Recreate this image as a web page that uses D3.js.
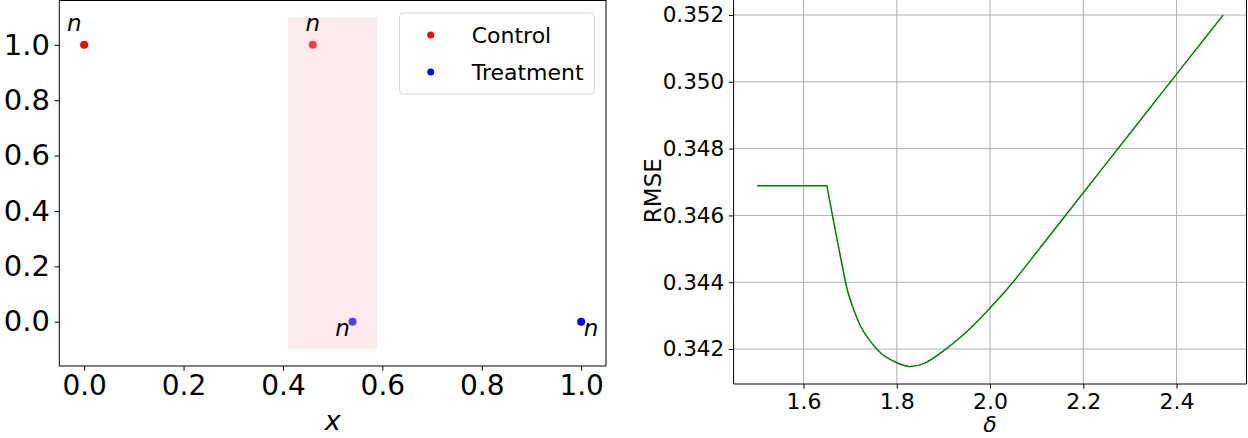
<!DOCTYPE html>
<html>
<head>
<meta charset="utf-8">
<script src="https://cdn.jsdelivr.net/npm/d3@7"></script>
<style>
  body { margin: 0; background: #fff; }
  svg { display: block; font-family: "DejaVu Sans", sans-serif; }
</style>
</head>
<body>
<div id="chart"></div>
<script>
// left panel: two groups of points with a shaded band
const seriesNames = ["Control", "Treatment"];
const seriesColors = ["#ff0000", "#0000ff"];
const controlX = [0, 0.46];
const controlY = [1, 1];
const treatmentX = [0.54, 1];
const treatmentY = [0, 0];
const bandX = [0.41, 0.59];
const bandY = [-0.1, 1.1];
const noteX = [-0.02, 0.46, 0.52, 1.02];
const noteY = [1.05, 1.05, -0.05, -0.05];
const noteText = ["n", "n", "n", "n"];
const leftTicks = [0, 0.2, 0.4, 0.6, 0.8, 1.0];

// right panel: RMSE against delta
const deltaValues = [1.50, 1.65, 1.662, 1.676, 1.69, 1.70, 1.72, 1.74, 1.757, 1.775, 1.80, 1.825,
  1.86, 1.905, 1.95, 2.00, 2.049, 2.10, 2.16, 2.28, 2.40, 2.50];
const rmseValues = [0.34689, 0.34689, 0.34600, 0.34499, 0.34400, 0.34348, 0.34275, 0.34229, 0.34200, 0.34178,
  0.34159, 0.34148, 0.34158, 0.34200, 0.34252, 0.34323, 0.34400, 0.34490, 0.34597, 0.34810, 0.35023, 0.35200];
const deltaTicks = [1.6, 1.8, 2.0, 2.2, 2.4];
const rmseTicks = [0.342, 0.344, 0.346, 0.348, 0.350, 0.352];

const width = 1248;
const height = 438;

const svg = d3.select("#chart")
    .append("svg")
    .attr("width", width)
    .attr("height", height);

const styleAxis = (g, size) => {
    g.select(".domain").remove();
    g.selectAll(".tick line").attr("stroke", "#000").attr("stroke-width", 1);
    g.selectAll(".tick text")
        .attr("fill", "#000")
        .style("font-size", size + "px")
        .style("font-family", "DejaVu Sans");
};

// ---------- left panel ----------
const lx = d3.scaleLinear().domain([-0.05, 1.05]).range([59.3, 606]);
const ly = d3.scaleLinear().domain([-0.16, 1.16]).range([366, 0.5]);

const left = svg.append("g");

const groups = [
    { x: controlX, y: controlY },
    { x: treatmentX, y: treatmentY }
];

groups.forEach((s, k) => {
    left.selectAll(null)
        .data(s.x.map((v, i) => [v, s.y[i]]))
        .enter().append("circle")
        .attr("cx", d => lx(d[0]))
        .attr("cy", d => ly(d[1]))
        .attr("r", 4)
        .attr("fill", seriesColors[k]);
});

left.append("rect")
    .attr("x", lx(bandX[0]))
    .attr("y", ly(bandY[1]))
    .attr("width", lx(bandX[1]) - lx(bandX[0]))
    .attr("height", ly(bandY[0]) - ly(bandY[1]))
    .attr("fill", "pink")
    .attr("fill-opacity", 0.32);

left.selectAll(".note")
    .data(noteText)
    .enter().append("text")
    .attr("class", "note")
    .attr("x", (d, i) => lx(noteX[i]))
    .attr("y", (d, i) => ly(noteY[i]))
    .attr("text-anchor", "middle")
    .style("font-style", "italic")
    .style("font-size", "23px")
    .text(d => d);

left.append("g")
    .attr("transform", `translate(0,366)`)
    .call(d3.axisBottom(lx).tickValues(leftTicks).tickFormat(d3.format(".1f")).tickSize(4.7).tickPadding(4.7))
    .call(g => styleAxis(g, 28));

left.append("g")
    .attr("transform", `translate(59.3,0)`)
    .call(d3.axisLeft(ly).tickValues(leftTicks).tickFormat(d3.format(".1f")).tickSize(4.7).tickPadding(4.7))
    .call(g => styleAxis(g, 29));

left.append("rect")
    .attr("x", 59.3).attr("y", 0.5)
    .attr("width", 606 - 59.3).attr("height", 366 - 0.5)
    .attr("fill", "none").attr("stroke", "#000").attr("stroke-width", 1);

left.append("text")
    .attr("x", (59.3 + 606) / 2)
    .attr("y", 430)
    .attr("text-anchor", "middle")
    .style("font-style", "italic")
    .style("font-size", "27px")
    .text("x");

// legend
const legend = left.append("g");
legend.append("rect")
    .attr("x", 399.5).attr("y", 13)
    .attr("width", 195).attr("height", 81)
    .attr("rx", 4)
    .attr("fill", "#fff").attr("fill-opacity", 0.8)
    .attr("stroke", "#d6d6d6").attr("stroke-width", 1);

const entry = legend.selectAll(".entry")
    .data(seriesNames)
    .enter().append("g")
    .attr("class", "entry")
    .attr("transform", (d, i) => `translate(430.7,${35 + i * 37})`);

entry.append("circle").attr("r", 3.5).attr("fill", (d, i) => seriesColors[i]);
entry.append("text")
    .attr("x", 41)
    .attr("y", 7.5)
    .style("font-size", "22px")
    .text(d => d);

// ---------- right panel ----------
const pad = (d3.max(rmseValues) - d3.min(rmseValues)) * 0.05;
const rx = d3.scaleLinear().domain([1.45, 2.55]).range([733.6, 1246.5]);
const ry = d3.scaleLinear()
    .domain([d3.min(rmseValues) - pad, d3.max(rmseValues) + pad])
    .range([384, -2.6]);

const right = svg.append("g");

right.append("g")
    .selectAll("line")
    .data(deltaTicks)
    .enter().append("line")
    .attr("x1", d => rx(d)).attr("x2", d => rx(d))
    .attr("y1", 384).attr("y2", -3)
    .attr("stroke", "#b0b0b0").attr("stroke-width", 1);

right.append("g")
    .selectAll("line")
    .data(rmseTicks)
    .enter().append("line")
    .attr("x1", 733.6).attr("x2", 1246.5)
    .attr("y1", d => ry(d)).attr("y2", d => ry(d))
    .attr("stroke", "#b0b0b0").attr("stroke-width", 1);

// flat part is drawn straight, the rest smoothly, so the corner stays sharp
const points = deltaValues.map((d, i) => [d, rmseValues[i]]);
const kink = points.findIndex(p => p[1] !== rmseValues[0]) - 1;

const flatLine = d3.line().x(d => rx(d[0])).y(d => ry(d[1]));
const curveLine = d3.line().x(d => rx(d[0])).y(d => ry(d[1])).curve(d3.curveNatural);

right.append("path")
    .attr("d", flatLine(points.slice(0, kink + 1)) + curveLine(points.slice(kink)).replace(/^M/, "L"))
    .attr("fill", "none")
    .attr("stroke", "#008000")
    .attr("stroke-width", 1.5)
    .attr("stroke-linejoin", "round");

right.append("g")
    .attr("transform", `translate(0,384)`)
    .call(d3.axisBottom(rx).tickValues(deltaTicks).tickFormat(d3.format(".1f")).tickSize(4.7).tickPadding(4.7))
    .call(g => styleAxis(g, 22));

right.append("g")
    .attr("transform", `translate(733.6,0)`)
    .call(d3.axisLeft(ry).tickValues(rmseTicks).tickFormat(d3.format(".3f")).tickSize(4.7).tickPadding(4.7))
    .call(g => styleAxis(g, 21.5));

right.append("path")
    .attr("d", `M733.6,-3V384H1246.5V-3`)
    .attr("fill", "none").attr("stroke", "#000").attr("stroke-width", 1);

right.append("text")
    .attr("transform", `translate(661,${(384 - 2.6) / 2}) rotate(-90)`)
    .attr("text-anchor", "middle")
    .style("font-size", "23px")
    .text("RMSE");

right.append("text")
    .attr("x", (733.6 + 1246.5) / 2)
    .attr("y", 432)
    .attr("text-anchor", "middle")
    .style("font-style", "italic")
    .style("font-size", "22px")
    .text("δ");
</script>
</body>
</html>
